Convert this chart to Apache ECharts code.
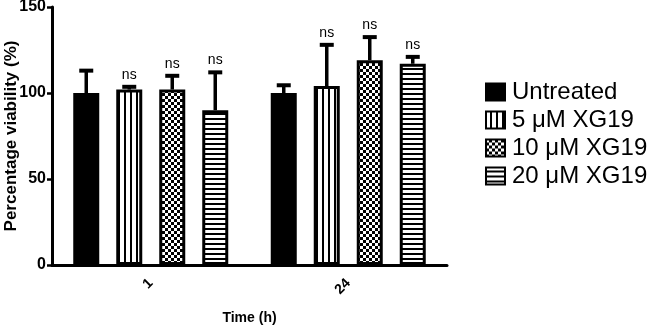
<!DOCTYPE html>
<html>
<head>
<meta charset="utf-8">
<script src="https://cdn.jsdelivr.net/npm/echarts@6/dist/echarts.min.js"></script>
<style>
  html, body { margin: 0; padding: 0; background: #fff; }
  #chart { width: 649px; height: 328px; }
</style>
</head>
<body>
<div id="chart"></div>
<script>
// data
var categories = ['1', '24'];
var seriesNames = ['Untreated', '5 \u03bcM XG19', '10 \u03bcM XG19', '20 \u03bcM XG19'];
var untreated = [100, 100];
var xg5 = [102, 104];
var xg10 = [102, 119];
var xg20 = [90, 117];
var errUntreated = [13, 4.5];
var errXg5 = [1.6, 24];
var errXg10 = [8, 13.5];
var errXg20 = [22, 4];
var sigUntreated = ['', ''];
var sigXg5 = ['ns', 'ns'];
var sigXg10 = ['ns', 'ns'];
var sigXg20 = ['ns', 'ns'];
var yTicks = [0, 50, 100, 150];

var means = [untreated, xg5, xg10, xg20];
var errs = [errUntreated, errXg5, errXg10, errXg20];
var sigs = [sigUntreated, sigXg5, sigXg10, sigXg20];

var FONT = 'Liberation Sans, Arial, sans-serif';
var barW = 26, gapPx = 17;

// fill patterns (GraphPad style)
function makePattern(kind) {
  var c = document.createElement('canvas');
  var ctx = c.getContext('2d');
  if (kind === 'vstripe') {
    c.width = 6; c.height = 6;
    ctx.fillStyle = '#fff'; ctx.fillRect(0, 0, 6, 6);
    ctx.fillStyle = '#000'; ctx.fillRect(4, 0, 2, 6);
  } else if (kind === 'check') {
    c.width = 6; c.height = 6;
    ctx.fillStyle = '#000'; ctx.fillRect(0, 0, 6, 6);
    ctx.fillStyle = '#fff';
    ctx.fillRect(0, 0, 3, 3); ctx.fillRect(3, 3, 3, 3);
  } else {
    c.width = 5; c.height = 5;
    ctx.fillStyle = '#fff'; ctx.fillRect(0, 0, 5, 5);
    ctx.fillStyle = '#000'; ctx.fillRect(0, 3, 5, 2);
  }
  return { image: c, repeat: 'repeat' };
}
var fills = ['#000', makePattern('vstripe'), makePattern('check'), makePattern('hstripe')];

var chart = echarts.init(document.getElementById('chart'), null, { renderer: 'canvas' });

var series = [];
seriesNames.forEach(function (name, i) {
  series.push({
    name: name,
    type: 'bar',
    data: means[i],
    barWidth: barW,
    barGap: (gapPx / barW * 100) + '%',
    itemStyle: { color: fills[i], borderColor: '#000', borderWidth: 3 },
    emphasis: { disabled: true },
    z: 2
  });
});
seriesNames.forEach(function (name, i) {
  series.push({
    type: 'custom',
    name: name + ' err',
    data: categories.map(function (c, k) { return [k, means[i][k], errs[i][k]]; }),
    encode: { x: 0, y: 1 },
    z: 5,
    silent: true,
    renderItem: function (params, api) {
      var k = api.value(0);
      var m = api.value(1);
      var e = api.value(2);
      var base = api.coord([k, m]);
      var top = api.coord([k, m + e]);
      var x = base[0] + (i - 1.5) * (barW + gapPx);
      var children = [
        { type: 'line', shape: { x1: x, y1: base[1], x2: x, y2: top[1] },
          style: { stroke: '#000', lineWidth: 3.5 } },
        { type: 'line', shape: { x1: x - 7, y1: top[1], x2: x + 7, y2: top[1] },
          style: { stroke: '#000', lineWidth: 4 } }
      ];
      var s = sigs[i][k];
      if (s) {
        children.push({ type: 'text', x: x, y: top[1] - 5,
          style: { text: s, fill: '#000', font: '14px ' + FONT, align: 'center', verticalAlign: 'bottom' } });
      }
      return { type: 'group', children: children };
    }
  });
});

chart.setOption({
  animation: false,
  backgroundColor: '#fff',
  grid: { left: 52, right: 202, top: 7, bottom: 63, outerBoundsMode: 'none', containLabel: false },
  legend: {
    data: seriesNames,
    orient: 'vertical',
    left: 480,
    top: 75,
    icon: 'rect',
    itemWidth: 19,
    itemHeight: 17,
    itemGap: 4,
    textStyle: { fontFamily: FONT, fontSize: 24, lineHeight: 24, color: '#000', padding: [0, 0, 0, 2] }
  },
  xAxis: {
    type: 'category',
    data: categories,
    name: 'Time (h)',
    nameLocation: 'middle',
    nameGap: 46,
    nameMoveOverlap: false,
    nameTextStyle: { fontFamily: FONT, fontWeight: 'bold', fontSize: 14, color: '#000' },
    axisLine: { lineStyle: { color: '#000', width: 3 } },
    axisTick: { alignWithLabel: true, length: 5, lineStyle: { color: '#000', width: 2 } },
    axisLabel: { rotate: 45, margin: 16, fontFamily: FONT, fontWeight: 'bold', fontSize: 14, color: '#000' }
  },
  yAxis: {
    type: 'value',
    min: yTicks[0],
    max: yTicks[yTicks.length - 1],
    interval: yTicks[1] - yTicks[0],
    name: 'Percentage viability (%)',
    nameLocation: 'middle',
    nameGap: 32,
    nameMoveOverlap: false,
    nameTextStyle: { fontFamily: FONT, fontWeight: 'bold', fontSize: 17, color: '#000' },
    axisLine: { show: true, lineStyle: { color: '#000', width: 3 } },
    axisTick: { show: true, length: 5, lineStyle: { color: '#000', width: 2.5 } },
    splitLine: { show: false },
    axisLabel: { margin: 6, fontFamily: FONT, fontWeight: 'bold', fontSize: 16, color: '#000' }
  },
  series: series
});
</script>
</body>
</html>
